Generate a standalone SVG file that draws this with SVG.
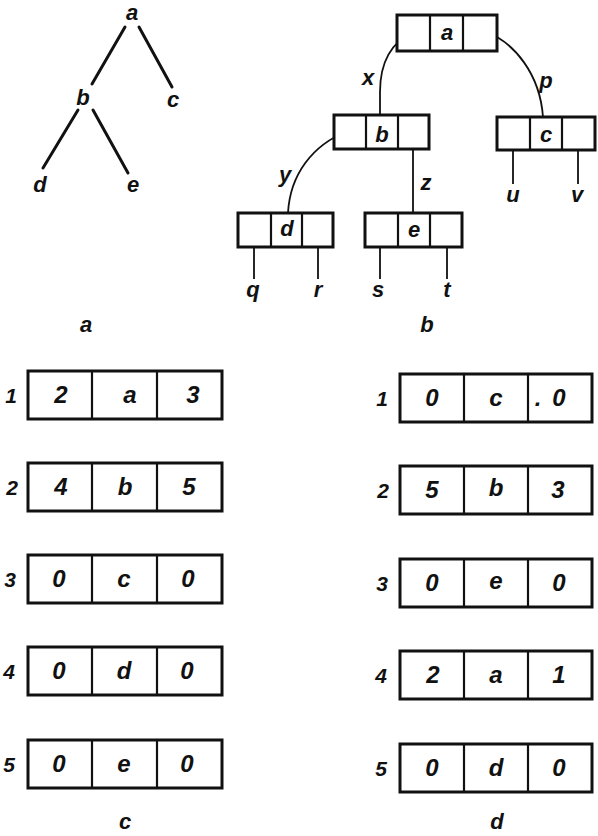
<svg xmlns="http://www.w3.org/2000/svg" width="598" height="836" viewBox="0 0 598 836">
<style>
text{font-family:"Liberation Sans","DejaVu Sans",sans-serif;font-style:italic;font-weight:bold;fill:#111;text-anchor:middle}
.t{font-size:22px}
.c{font-size:24px}
.r{font-size:21px}
.box{fill:#fff;stroke:#111;stroke-width:3}
.div{stroke:#111;stroke-width:2.2}
.edge{fill:none;stroke:#111;stroke-width:3;stroke-linecap:round}
.link{fill:none;stroke:#111;stroke-width:1.8}
</style>
<rect width="598" height="836" fill="#fff"/>
<!-- connectors -->
<g id="connectors">
<line class="edge" x1="125" y1="27" x2="92" y2="84"/>
<line class="edge" x1="139" y1="27" x2="172" y2="87"/>
<line class="edge" x1="78" y1="110" x2="43" y2="168"/>
<line class="edge" x1="93" y1="110" x2="128" y2="173"/>
<path class="link" d="M 413 32 C 392 42, 380 60, 380 92 L 380 116"/>
<path class="link" d="M 484 31 C 515 42, 540 75, 543 117"/>
<path class="link" d="M 348 131 C 312 145, 290 175, 288 213"/>
<path class="link" d="M 416 134 L 413 136 L 413 213"/>
<path class="link" d="M 516 134 L 513 136 L 513 184"/>
<path class="link" d="M 581 134 L 578 136 L 578 184"/>
<path class="link" d="M 257 229 L 254 231 L 254 279"/>
<path class="link" d="M 321 229 L 318 231 L 318 279"/>
<path class="link" d="M 383 230 L 380 232 L 380 279"/>
<path class="link" d="M 450 230 L 447 232 L 447 279"/>
</g>
<!-- tree a -->
<g id="ta"><text class="t" x="132" y="20">a</text></g>
<g id="tb"><text class="t" x="83" y="105">b</text></g>
<g id="tc"><text class="t" x="173" y="107">c</text></g>
<g id="td"><text class="t" x="40" y="192">d</text></g>
<g id="te"><text class="t" x="133" y="192">e</text></g>
<text class="t" x="86" y="332">a</text>
<!-- tree b -->
<g id="na"><rect class="box" x="397" y="15" width="100" height="36"/><line class="div" x1="430" y1="15" x2="430" y2="51"/><line class="div" x1="463" y1="15" x2="463" y2="51"/><text class="t" x="447" y="40">a</text></g>
<g id="nb"><rect class="box" x="334" y="115" width="95" height="34"/><line class="div" x1="366" y1="115" x2="366" y2="149"/><line class="div" x1="398" y1="115" x2="398" y2="149"/><text class="t" x="382" y="142">b</text></g>
<g id="nc"><rect class="box" x="497" y="117" width="98" height="33"/><line class="div" x1="530" y1="117" x2="530" y2="150"/><line class="div" x1="562" y1="117" x2="562" y2="150"/><text class="t" x="546" y="142">c</text></g>
<g id="nd"><rect class="box" x="238" y="213" width="95" height="34"/><line class="div" x1="271" y1="213" x2="271" y2="247"/><line class="div" x1="302" y1="213" x2="302" y2="247"/><text class="t" x="287" y="236">d</text></g>
<g id="ne"><rect class="box" x="365" y="213" width="97" height="34"/><line class="div" x1="398" y1="213" x2="398" y2="247"/><line class="div" x1="430" y1="213" x2="430" y2="247"/><text class="t" x="414" y="237">e</text></g>
<g id="labels-b">
<text class="t" x="368" y="85">x</text>
<text class="t" x="546" y="88">p</text>
<text class="t" x="285" y="182">y</text>
<text class="t" x="426" y="190">z</text>
<text class="t" x="513" y="202">u</text>
<text class="t" x="577" y="202">v</text>
<text class="t" x="253" y="297">q</text>
<text class="t" x="318" y="297">r</text>
<text class="t" x="378" y="297">s</text>
<text class="t" x="447" y="297">t</text>
<text class="t" x="427" y="332">b</text>
</g>
<!-- table c -->
<g id="c1"><text class="r" x="11" y="403">1</text><rect class="box" x="28" y="371" width="194" height="48"/><line class="div" x1="92" y1="371" x2="92" y2="419"/><line class="div" x1="157" y1="371" x2="157" y2="419"/><text class="c" x="61" y="403">2</text><text class="c" x="130" y="403">a</text><text class="c" x="193" y="403">3</text></g>
<g id="c2"><text class="r" x="12" y="495">2</text><rect class="box" x="28" y="463" width="194" height="48"/><line class="div" x1="92" y1="463" x2="92" y2="511"/><line class="div" x1="157" y1="463" x2="157" y2="511"/><text class="c" x="61" y="495">4</text><text class="c" x="125" y="495">b</text><text class="c" x="189" y="495">5</text></g>
<g id="c3"><text class="r" x="10" y="587">3</text><rect class="box" x="28" y="555" width="194" height="48"/><line class="div" x1="92" y1="555" x2="92" y2="603"/><line class="div" x1="157" y1="555" x2="157" y2="603"/><text class="c" x="59" y="587">0</text><text class="c" x="124" y="587">c</text><text class="c" x="188" y="587">0</text></g>
<g id="c4"><text class="r" x="9" y="679">4</text><rect class="box" x="28" y="647" width="194" height="48"/><line class="div" x1="92" y1="647" x2="92" y2="695"/><line class="div" x1="157" y1="647" x2="157" y2="695"/><text class="c" x="59" y="679">0</text><text class="c" x="124" y="679">d</text><text class="c" x="187" y="679">0</text></g>
<g id="c5"><text class="r" x="9" y="772">5</text><rect class="box" x="28" y="740" width="194" height="48"/><line class="div" x1="92" y1="740" x2="92" y2="788"/><line class="div" x1="157" y1="740" x2="157" y2="788"/><text class="c" x="59" y="772">0</text><text class="c" x="124" y="772">e</text><text class="c" x="187" y="772">0</text></g>
<text class="t" x="125" y="829">c</text>
<!-- table d -->
<g id="d1"><text class="r" x="382" y="406">1</text><rect class="box" x="400" y="374" width="192" height="48"/><line class="div" x1="464" y1="374" x2="464" y2="422"/><line class="div" x1="528" y1="374" x2="528" y2="422"/><text class="c" x="432" y="406">0</text><text class="c" x="496" y="406">c</text><text class="c" x="538" y="406">.</text><text class="c" x="559" y="406">0</text></g>
<g id="d2"><text class="r" x="383" y="498">2</text><rect class="box" x="400" y="466" width="192" height="48"/><line class="div" x1="464" y1="466" x2="464" y2="514"/><line class="div" x1="528" y1="466" x2="528" y2="514"/><text class="c" x="432" y="498">5</text><text class="c" x="496" y="496">b</text><text class="c" x="558" y="498">3</text></g>
<g id="d3"><text class="r" x="382" y="591">3</text><rect class="box" x="400" y="559" width="192" height="48"/><line class="div" x1="464" y1="559" x2="464" y2="607"/><line class="div" x1="528" y1="559" x2="528" y2="607"/><text class="c" x="432" y="591">0</text><text class="c" x="496" y="589">e</text><text class="c" x="559" y="591">0</text></g>
<g id="d4"><text class="r" x="381" y="683">4</text><rect class="box" x="400" y="651" width="192" height="48"/><line class="div" x1="464" y1="651" x2="464" y2="699"/><line class="div" x1="528" y1="651" x2="528" y2="699"/><text class="c" x="433" y="683">2</text><text class="c" x="496" y="683">a</text><text class="c" x="559" y="683">1</text></g>
<g id="d5"><text class="r" x="381" y="776">5</text><rect class="box" x="400" y="744" width="192" height="48"/><line class="div" x1="464" y1="744" x2="464" y2="792"/><line class="div" x1="528" y1="744" x2="528" y2="792"/><text class="c" x="432" y="776">0</text><text class="c" x="496" y="776">d</text><text class="c" x="559" y="776">0</text></g>
<text class="t" x="497" y="829">d</text>
</svg>
